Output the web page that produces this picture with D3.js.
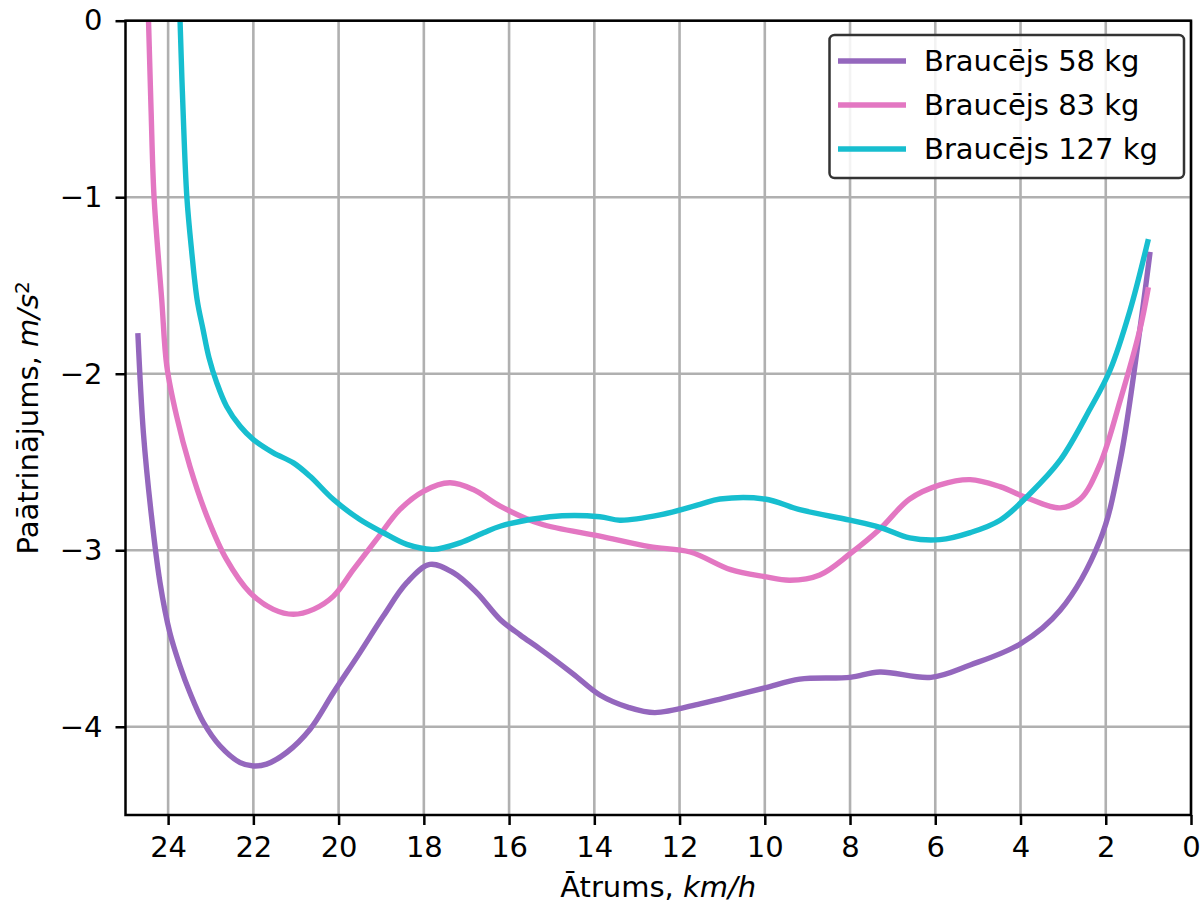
<!DOCTYPE html>
<html>
<head>
<meta charset="utf-8">
<script src="https://cdn.jsdelivr.net/npm/d3@7/dist/d3.min.js"></script>
<style>
  html, body { margin: 0; padding: 0; background: #fff; }
  svg { display: block; font-family: "DejaVu Sans", sans-serif; }
</style>
</head>
<body>
<svg id="chart" width="1203" height="906"></svg>
<script>
// Braking deceleration vs. speed for three rider masses
const seriesNames = ["Braucējs 58 kg", "Braucējs 83 kg", "Braucējs 127 kg"];
const seriesColors = ["#9467bd", "#e377c2", "#17becf"];

const speed58 = [24.71, 24.58, 24.39, 24.19, 23.96, 23.72, 23.49, 23.17, 22.78, 22.31, 22.0, 21.69, 21.22, 20.67, 20.12, 19.5, 18.95, 18.4, 17.86, 17.31, 16.76, 16.21, 15.74, 15.27, 14.5, 13.87, 13.2, 12.58, 11.52, 11.0, 10.0, 9.18, 8.0, 7.3, 6.1, 5.18, 4.0, 3.07, 2.13, 1.66, 1.2, 0.96];
const accel58 = [-1.77, -2.335, -2.807, -3.184, -3.467, -3.656, -3.806, -3.976, -4.109, -4.203, -4.222, -4.212, -4.146, -4.014, -3.806, -3.58, -3.373, -3.184, -3.08, -3.127, -3.24, -3.392, -3.48, -3.56, -3.70, -3.82, -3.89, -3.92, -3.87, -3.84, -3.78, -3.73, -3.72, -3.69, -3.72, -3.65, -3.53, -3.34, -2.94, -2.49, -1.75, -1.31];

const speed83 = [24.5, 24.46, 24.4, 24.33, 24.15, 24.03, 23.8, 23.49, 23.09, 22.63, 22.08, 21.53, 21.06, 20.59, 20.12, 19.65, 19.11, 18.56, 18.01, 17.39, 16.84, 16.21, 15.27, 13.87, 12.7, 11.75, 10.8, 10.0, 9.41, 8.71, 8.0, 7.3, 6.6, 5.89, 5.18, 4.48, 3.78, 3.07, 2.6, 2.13, 1.66, 1.2, 1.0];
const accel83 = [0.3, 0, -0.505, -1, -1.58, -1.958, -2.241, -2.524, -2.807, -3.052, -3.24, -3.335, -3.363, -3.335, -3.26, -3.109, -2.939, -2.769, -2.666, -2.618, -2.656, -2.75, -2.85, -2.92, -2.98, -3.01, -3.11, -3.15, -3.17, -3.14, -3.02, -2.88, -2.71, -2.63, -2.6, -2.64, -2.71, -2.76, -2.71, -2.51, -2.15, -1.75, -1.51];

const speed127 = [23.75, 23.72, 23.65, 23.56, 23.45, 23.32, 23.18, 23.04, 22.86, 22.63, 22.31, 22.0, 21.53, 21.06, 20.67, 20.12, 19.5, 18.95, 18.4, 17.78, 17.15, 16.6, 16.21, 15.04, 13.87, 13.4, 12.46, 11.52, 11.05, 10.0, 9.18, 8.0, 7.3, 6.6, 5.89, 5.18, 4.48, 3.78, 3.07, 2.37, 1.9, 1.43, 1.0];
const accel127 = [0.3, 0, -0.505, -1, -1.3, -1.58, -1.75, -1.91, -2.05, -2.184, -2.298, -2.373, -2.448, -2.505, -2.581, -2.713, -2.826, -2.901, -2.967, -2.995, -2.958, -2.901, -2.864, -2.81, -2.81, -2.83, -2.80, -2.74, -2.71, -2.71, -2.77, -2.83, -2.87, -2.93, -2.94, -2.90, -2.83, -2.68, -2.49, -2.20, -1.98, -1.64, -1.237];

const xTicks = [24, 22, 20, 18, 16, 14, 12, 10, 8, 6, 4, 2, 0];
const yTicks = [0, -1, -2, -3, -4];

const speeds = [speed58, speed83, speed127];
const accels = [accel58, accel83, accel127];
const series = seriesNames.map((name, i) => ({
  name,
  color: seriesColors[i],
  points: speeds[i].map((v, j) => ({ v, a: accels[i][j] }))
}));

const svg = d3.select("#chart");
const plot = { left: 125.5, right: 1191, top: 20.7, bottom: 815 };
const fontSize = 29;

const x = d3.scaleLinear().domain([25, 0]).range([plot.left, plot.right]);
const y = d3.scaleLinear().domain([0, -4.5]).range([plot.top, plot.bottom]);

svg.append("rect").attr("width", 1203).attr("height", 906).attr("fill", "#fff");

svg.append("defs").append("clipPath").attr("id", "plot-clip")
  .append("rect")
  .attr("x", plot.left).attr("y", plot.top)
  .attr("width", plot.right - plot.left).attr("height", plot.bottom - plot.top);

// grid
const grid = svg.append("g").attr("stroke", "#b0b0b0").attr("stroke-width", 2.6);
grid.selectAll("line.gx").data(xTicks).join("line")
  .attr("x1", d => x(d)).attr("x2", d => x(d))
  .attr("y1", plot.top).attr("y2", plot.bottom);
grid.selectAll("line.gy").data(yTicks).join("line")
  .attr("y1", d => y(d)).attr("y2", d => y(d))
  .attr("x1", plot.left).attr("x2", plot.right);

// curves
const line = d3.line()
  .x(d => x(d.v))
  .y(d => y(d.a))
  .curve(d3.curveCatmullRom.alpha(0.5));

svg.append("g").attr("clip-path", "url(#plot-clip)")
  .selectAll("path").data(series).join("path")
  .attr("d", d => line(d.points))
  .attr("fill", "none")
  .attr("stroke", d => d.color)
  .attr("stroke-width", 5.4)
  .attr("stroke-linejoin", "round");

// axes
const xAxis = d3.axisBottom(x).tickValues(xTicks).tickSize(10).tickPadding(11).tickFormat(d3.format("d"));
const yAxis = d3.axisLeft(y).tickValues(yTicks).tickSize(10).tickPadding(13)
  .tickFormat(d => d < 0 ? "\u2212" + Math.abs(d) : String(d));

const gx = svg.append("g").attr("transform", `translate(0,${plot.bottom})`).call(xAxis);
const gy = svg.append("g").attr("transform", `translate(${plot.left},0)`).call(yAxis);
[gx, gy].forEach(g => {
  g.select(".domain").remove();
  g.selectAll(".tick line").attr("stroke", "#000").attr("stroke-width", 2.5);
  g.selectAll(".tick text").attr("fill", "#000")
    .style("font-family", "DejaVu Sans, sans-serif").style("font-size", fontSize + "px");
});

// frame
svg.append("rect")
  .attr("x", plot.left).attr("y", plot.top)
  .attr("width", plot.right - plot.left).attr("height", plot.bottom - plot.top)
  .attr("fill", "none").attr("stroke", "#000").attr("stroke-width", 2.5);

// axis titles
const xTitle = svg.append("text")
  .attr("x", (plot.left + plot.right) / 2).attr("y", 897)
  .attr("text-anchor", "middle").style("font-size", fontSize + "px").attr("fill", "#000");
xTitle.append("tspan").text("Ātrums, ");
xTitle.append("tspan").attr("font-style", "italic").text("km/h");

const yTitle = svg.append("text")
  .attr("transform", `translate(38,${(plot.top + plot.bottom) / 2}) rotate(-90)`)
  .attr("text-anchor", "middle").style("font-size", fontSize + "px").attr("fill", "#000");
yTitle.append("tspan").text("Paātrinājums, ");
yTitle.append("tspan").attr("font-style", "italic").text("m/s");
yTitle.append("tspan").attr("dy", "-0.45em").style("font-size", "20px").text("2");

// legend
const legend = svg.append("g");
legend.append("rect")
  .attr("x", 829.5).attr("y", 35).attr("width", 354.5).attr("height", 143)
  .attr("rx", 5).attr("ry", 5)
  .attr("fill", "#fff").attr("fill-opacity", 0.85)
  .attr("stroke", "#333").attr("stroke-width", 2.5);
const rows = legend.selectAll("g.row").data(series).join("g")
  .attr("transform", (d, i) => `translate(0,${61 + i * 44})`);
rows.append("line")
  .attr("x1", 838).attr("x2", 906).attr("y1", 0).attr("y2", 0)
  .attr("stroke", d => d.color).attr("stroke-width", 5.4);
rows.append("text")
  .attr("x", 924).attr("y", 9.5)
  .style("font-size", fontSize + "px").attr("fill", "#000")
  .text(d => d.name);
</script>
</body>
</html>
